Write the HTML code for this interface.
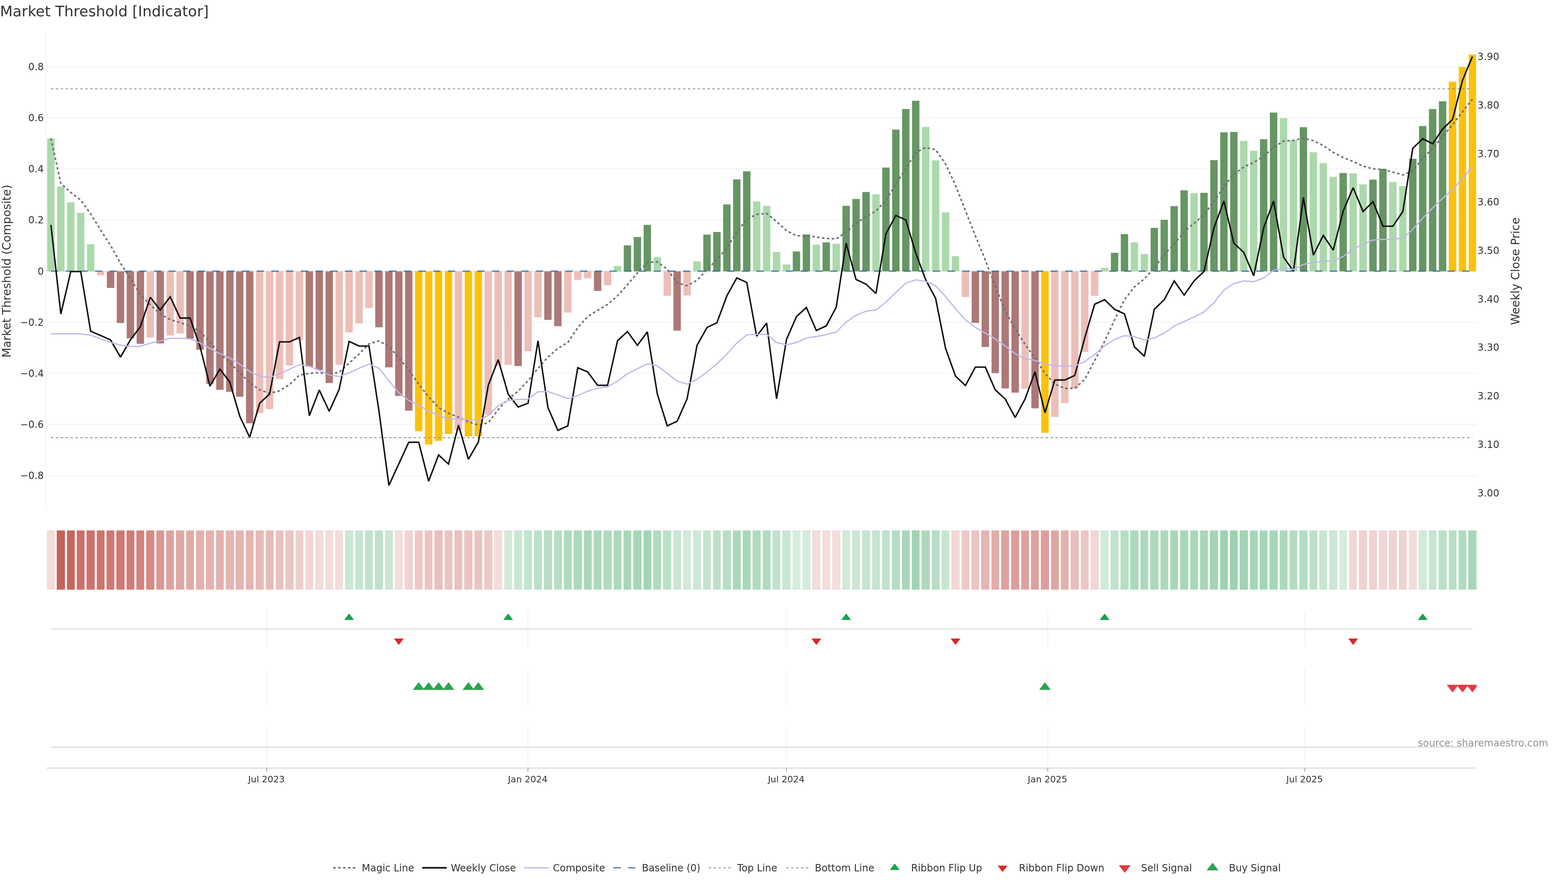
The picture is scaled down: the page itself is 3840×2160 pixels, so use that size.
<!DOCTYPE html>
<html lang="en"><head><meta charset="utf-8"><title>Market Threshold [Indicator]</title><style>html,body{margin:0;padding:0;background:#fff}body{width:3840px;height:2160px;overflow:hidden}svg{display:block}</style></head><body>
<svg width="3840" height="2160" viewBox="0 0 3840 2160" font-family="'DejaVu Sans','Liberation Sans',sans-serif">
<rect width="3840" height="2160" fill="#fff"/>
<defs><clipPath id="cm"><rect x="114.0" y="80.0" width="3502.4" height="1168.0"/></clipPath><clipPath id="c4"><rect x="114.0" y="1600" width="3502.4" height="170"/></clipPath></defs>
<g stroke="#eff1f3" stroke-width="2" fill="none">
<line x1="114.0" x2="3616.4" y1="163.2" y2="163.2"/>
<line x1="114.0" x2="3616.4" y1="288.4" y2="288.4"/>
<line x1="114.0" x2="3616.4" y1="413.6" y2="413.6"/>
<line x1="114.0" x2="3616.4" y1="538.8" y2="538.8"/>
<line x1="114.0" x2="3616.4" y1="789.2" y2="789.2"/>
<line x1="114.0" x2="3616.4" y1="914.4" y2="914.4"/>
<line x1="114.0" x2="3616.4" y1="1039.6" y2="1039.6"/>
<line x1="114.0" x2="3616.4" y1="1164.8" y2="1164.8"/>
<line x1="113" x2="113" y1="80.0" y2="1248.0"/>
</g>
<line x1="114.0" x2="3616.4" y1="664.0" y2="664.0" stroke="#e9e9e9" stroke-width="3"/>
<g fill="#fff">
<rect x="133.70" y="457.0" width="6.24" height="205.0"/>
<rect x="158.04" y="495.3" width="6.24" height="166.7"/>
<rect x="182.39" y="520.9" width="6.24" height="141.1"/>
<rect x="206.73" y="598.1" width="6.24" height="63.9"/>
<rect x="255.42" y="666.0" width="6.24" height="8.5"/>
<rect x="279.77" y="666.0" width="6.24" height="39.1"/>
<rect x="304.11" y="666.0" width="6.24" height="125.1"/>
<rect x="328.46" y="666.0" width="6.24" height="162.6"/>
<rect x="352.80" y="666.0" width="6.24" height="160.6"/>
<rect x="377.14" y="666.0" width="6.24" height="160.6"/>
<rect x="401.49" y="666.0" width="6.24" height="155.6"/>
<rect x="425.83" y="666.0" width="6.24" height="150.6"/>
<rect x="450.18" y="666.0" width="6.24" height="150.6"/>
<rect x="474.52" y="666.0" width="6.24" height="163.8"/>
<rect x="498.87" y="666.0" width="6.24" height="190.6"/>
<rect x="523.21" y="666.0" width="6.24" height="273.8"/>
<rect x="547.55" y="666.0" width="6.24" height="288.7"/>
<rect x="571.90" y="666.0" width="6.24" height="293.6"/>
<rect x="596.24" y="666.0" width="6.24" height="305.6"/>
<rect x="620.59" y="666.0" width="6.24" height="345.8"/>
<rect x="644.93" y="666.0" width="6.24" height="335.9"/>
<rect x="669.28" y="666.0" width="6.24" height="262.2"/>
<rect x="693.62" y="666.0" width="6.24" height="228.9"/>
<rect x="717.97" y="666.0" width="6.24" height="167.5"/>
<rect x="742.31" y="666.0" width="6.24" height="167.5"/>
<rect x="766.65" y="666.0" width="6.24" height="232.1"/>
<rect x="791.00" y="666.0" width="6.24" height="240.3"/>
<rect x="815.34" y="666.0" width="6.24" height="227.7"/>
<rect x="839.69" y="666.0" width="6.24" height="148.4"/>
<rect x="864.03" y="666.0" width="6.24" height="126.0"/>
<rect x="888.38" y="666.0" width="6.24" height="88.5"/>
<rect x="912.72" y="666.0" width="6.24" height="88.5"/>
<rect x="937.07" y="666.0" width="6.24" height="135.5"/>
<rect x="961.41" y="666.0" width="6.24" height="233.6"/>
<rect x="985.75" y="666.0" width="6.24" height="303.6"/>
<rect x="1010.10" y="666.0" width="6.24" height="339.6"/>
<rect x="1034.44" y="666.0" width="6.24" height="390.0"/>
<rect x="1058.79" y="666.0" width="6.24" height="413.6"/>
<rect x="1083.13" y="666.0" width="6.24" height="396.7"/>
<rect x="1107.48" y="666.0" width="6.24" height="388.0"/>
<rect x="1131.82" y="666.0" width="6.24" height="388.0"/>
<rect x="1156.17" y="666.0" width="6.24" height="402.4"/>
<rect x="1180.51" y="666.0" width="6.24" height="349.5"/>
<rect x="1204.85" y="666.0" width="6.24" height="229.7"/>
<rect x="1229.20" y="666.0" width="6.24" height="227.7"/>
<rect x="1253.54" y="666.0" width="6.24" height="227.7"/>
<rect x="1277.89" y="666.0" width="6.24" height="194.1"/>
<rect x="1302.23" y="666.0" width="6.24" height="111.1"/>
<rect x="1326.58" y="666.0" width="6.24" height="111.1"/>
<rect x="1350.92" y="666.0" width="6.24" height="117.4"/>
<rect x="1375.26" y="666.0" width="6.24" height="99.5"/>
<rect x="1399.61" y="666.0" width="6.24" height="19.4"/>
<rect x="1423.95" y="666.0" width="6.24" height="15.5"/>
<rect x="1448.30" y="666.0" width="6.24" height="15.5"/>
<rect x="1472.64" y="666.0" width="6.24" height="32.4"/>
<rect x="1521.33" y="651.3" width="6.24" height="10.7"/>
<rect x="1545.68" y="600.9" width="6.24" height="61.1"/>
<rect x="1570.02" y="580.5" width="6.24" height="81.5"/>
<rect x="1594.36" y="629.9" width="6.24" height="32.1"/>
<rect x="1643.05" y="666.0" width="6.24" height="58.5"/>
<rect x="1667.40" y="666.0" width="6.24" height="57.7"/>
<rect x="1716.09" y="639.9" width="6.24" height="22.1"/>
<rect x="1740.43" y="574.5" width="6.24" height="87.5"/>
<rect x="1764.78" y="568.1" width="6.24" height="93.9"/>
<rect x="1789.12" y="500.7" width="6.24" height="161.3"/>
<rect x="1813.46" y="439.4" width="6.24" height="222.6"/>
<rect x="1837.81" y="493.5" width="6.24" height="168.5"/>
<rect x="1862.15" y="504.2" width="6.24" height="157.8"/>
<rect x="1886.50" y="617.0" width="6.24" height="45.0"/>
<rect x="1910.84" y="647.6" width="6.24" height="14.4"/>
<rect x="1935.19" y="647.6" width="6.24" height="14.4"/>
<rect x="1959.53" y="615.8" width="6.24" height="46.2"/>
<rect x="1983.87" y="599.1" width="6.24" height="62.9"/>
<rect x="2008.22" y="599.1" width="6.24" height="62.9"/>
<rect x="2032.56" y="597.0" width="6.24" height="65.0"/>
<rect x="2056.91" y="597.0" width="6.24" height="65.0"/>
<rect x="2081.25" y="504.0" width="6.24" height="158.0"/>
<rect x="2105.60" y="487.3" width="6.24" height="174.7"/>
<rect x="2129.94" y="475.9" width="6.24" height="186.1"/>
<rect x="2154.29" y="475.9" width="6.24" height="186.1"/>
<rect x="2178.63" y="410.3" width="6.24" height="251.7"/>
<rect x="2202.97" y="317.4" width="6.24" height="344.6"/>
<rect x="2227.32" y="267.0" width="6.24" height="395.0"/>
<rect x="2251.66" y="310.9" width="6.24" height="351.1"/>
<rect x="2276.01" y="392.7" width="6.24" height="269.3"/>
<rect x="2300.35" y="520.1" width="6.24" height="141.9"/>
<rect x="2324.70" y="627.3" width="6.24" height="34.7"/>
<rect x="2373.39" y="666.0" width="6.24" height="61.5"/>
<rect x="2397.73" y="666.0" width="6.24" height="124.8"/>
<rect x="2422.07" y="666.0" width="6.24" height="183.7"/>
<rect x="2446.42" y="666.0" width="6.24" height="247.7"/>
<rect x="2470.76" y="666.0" width="6.24" height="285.2"/>
<rect x="2495.11" y="666.0" width="6.24" height="286.2"/>
<rect x="2519.45" y="666.0" width="6.24" height="286.2"/>
<rect x="2543.80" y="666.0" width="6.24" height="333.9"/>
<rect x="2568.14" y="666.0" width="6.24" height="355.2"/>
<rect x="2592.48" y="666.0" width="6.24" height="321.0"/>
<rect x="2616.83" y="666.0" width="6.24" height="285.7"/>
<rect x="2641.17" y="666.0" width="6.24" height="195.7"/>
<rect x="2665.52" y="666.0" width="6.24" height="58.5"/>
<rect x="2714.21" y="656.1" width="6.24" height="5.9"/>
<rect x="2738.55" y="619.1" width="6.24" height="42.9"/>
<rect x="2762.90" y="593.6" width="6.24" height="68.4"/>
<rect x="2787.24" y="622.1" width="6.24" height="39.9"/>
<rect x="2811.58" y="622.1" width="6.24" height="39.9"/>
<rect x="2835.93" y="558.1" width="6.24" height="103.9"/>
<rect x="2860.27" y="538.3" width="6.24" height="123.7"/>
<rect x="2884.62" y="504.7" width="6.24" height="157.3"/>
<rect x="2908.96" y="473.2" width="6.24" height="188.8"/>
<rect x="2933.31" y="473.2" width="6.24" height="188.8"/>
<rect x="2957.65" y="472.2" width="6.24" height="189.8"/>
<rect x="2982.00" y="392.2" width="6.24" height="269.8"/>
<rect x="3006.34" y="324.1" width="6.24" height="337.9"/>
<rect x="3030.68" y="345.2" width="6.24" height="316.8"/>
<rect x="3055.03" y="369.3" width="6.24" height="292.7"/>
<rect x="3079.37" y="369.3" width="6.24" height="292.7"/>
<rect x="3103.72" y="341.0" width="6.24" height="321.0"/>
<rect x="3128.06" y="289.3" width="6.24" height="372.7"/>
<rect x="3152.41" y="343.2" width="6.24" height="318.8"/>
<rect x="3176.75" y="343.2" width="6.24" height="318.8"/>
<rect x="3201.10" y="372.8" width="6.24" height="289.2"/>
<rect x="3225.44" y="399.5" width="6.24" height="262.5"/>
<rect x="3249.78" y="433.1" width="6.24" height="228.9"/>
<rect x="3274.13" y="433.1" width="6.24" height="228.9"/>
<rect x="3298.47" y="424.5" width="6.24" height="237.5"/>
<rect x="3322.82" y="451.6" width="6.24" height="210.4"/>
<rect x="3347.16" y="451.6" width="6.24" height="210.4"/>
<rect x="3371.51" y="439.9" width="6.24" height="222.1"/>
<rect x="3395.85" y="445.8" width="6.24" height="216.2"/>
<rect x="3420.19" y="455.8" width="6.24" height="206.2"/>
<rect x="3444.54" y="455.8" width="6.24" height="206.2"/>
<rect x="3468.88" y="388.9" width="6.24" height="273.1"/>
<rect x="3493.23" y="308.7" width="6.24" height="353.3"/>
<rect x="3517.57" y="267.0" width="6.24" height="395.0"/>
<rect x="3541.92" y="248.1" width="6.24" height="413.9"/>
<rect x="3566.26" y="200.1" width="6.24" height="461.9"/>
<rect x="3590.61" y="164.1" width="6.24" height="497.9"/>
</g>
<g clip-path="url(#cm)">
<rect x="115.60" y="339.0" width="18.1" height="325.5" fill="#abd9ab"/>
<rect x="139.94" y="457.0" width="18.1" height="207.5" fill="#abd9ab"/>
<rect x="164.29" y="495.3" width="18.1" height="169.2" fill="#abd9ab"/>
<rect x="188.63" y="520.9" width="18.1" height="143.6" fill="#abd9ab"/>
<rect x="212.98" y="598.1" width="18.1" height="66.4" fill="#abd9ab"/>
<rect x="237.32" y="664.5" width="18.1" height="10.0" fill="#edbeb8"/>
<rect x="261.67" y="664.5" width="18.1" height="40.6" fill="#ad7875"/>
<rect x="286.01" y="664.5" width="18.1" height="126.6" fill="#ad7875"/>
<rect x="310.36" y="664.5" width="18.1" height="164.1" fill="#ad7875"/>
<rect x="334.70" y="664.5" width="18.1" height="177.5" fill="#ad7875"/>
<rect x="359.04" y="664.5" width="18.1" height="162.1" fill="#edbeb8"/>
<rect x="383.39" y="664.5" width="18.1" height="176.5" fill="#ad7875"/>
<rect x="407.73" y="664.5" width="18.1" height="157.1" fill="#edbeb8"/>
<rect x="432.08" y="664.5" width="18.1" height="152.1" fill="#edbeb8"/>
<rect x="456.42" y="664.5" width="18.1" height="165.3" fill="#ad7875"/>
<rect x="480.77" y="664.5" width="18.1" height="192.1" fill="#ad7875"/>
<rect x="505.11" y="664.5" width="18.1" height="275.3" fill="#ad7875"/>
<rect x="529.45" y="664.5" width="18.1" height="290.2" fill="#ad7875"/>
<rect x="553.80" y="664.5" width="18.1" height="295.1" fill="#ad7875"/>
<rect x="578.14" y="664.5" width="18.1" height="307.1" fill="#ad7875"/>
<rect x="602.49" y="664.5" width="18.1" height="372.1" fill="#ad7875"/>
<rect x="626.83" y="664.5" width="18.1" height="347.3" fill="#edbeb8"/>
<rect x="651.18" y="664.5" width="18.1" height="337.4" fill="#edbeb8"/>
<rect x="675.52" y="664.5" width="18.1" height="263.7" fill="#edbeb8"/>
<rect x="699.87" y="664.5" width="18.1" height="230.4" fill="#edbeb8"/>
<rect x="724.21" y="664.5" width="18.1" height="169.0" fill="#edbeb8"/>
<rect x="748.55" y="664.5" width="18.1" height="233.6" fill="#ad7875"/>
<rect x="772.90" y="664.5" width="18.1" height="241.8" fill="#ad7875"/>
<rect x="797.24" y="664.5" width="18.1" height="273.4" fill="#ad7875"/>
<rect x="821.59" y="664.5" width="18.1" height="229.2" fill="#edbeb8"/>
<rect x="845.93" y="664.5" width="18.1" height="149.9" fill="#edbeb8"/>
<rect x="870.28" y="664.5" width="18.1" height="127.5" fill="#edbeb8"/>
<rect x="894.62" y="664.5" width="18.1" height="90.0" fill="#edbeb8"/>
<rect x="918.97" y="664.5" width="18.1" height="137.0" fill="#ad7875"/>
<rect x="943.31" y="664.5" width="18.1" height="235.1" fill="#ad7875"/>
<rect x="967.65" y="664.5" width="18.1" height="305.1" fill="#ad7875"/>
<rect x="992.00" y="664.5" width="18.1" height="341.1" fill="#ad7875"/>
<rect x="1016.34" y="664.5" width="18.1" height="391.5" fill="#fdc10a"/>
<rect x="1040.69" y="664.5" width="18.1" height="424.3" fill="#fdc10a"/>
<rect x="1065.03" y="664.5" width="18.1" height="415.1" fill="#fdc10a"/>
<rect x="1089.38" y="664.5" width="18.1" height="398.2" fill="#fdc10a"/>
<rect x="1113.72" y="664.5" width="18.1" height="389.5" fill="#edbeb8"/>
<rect x="1138.07" y="664.5" width="18.1" height="404.4" fill="#fdc10a"/>
<rect x="1162.41" y="664.5" width="18.1" height="403.9" fill="#fdc10a"/>
<rect x="1186.75" y="664.5" width="18.1" height="351.0" fill="#edbeb8"/>
<rect x="1211.10" y="664.5" width="18.1" height="231.2" fill="#edbeb8"/>
<rect x="1235.44" y="664.5" width="18.1" height="229.2" fill="#edbeb8"/>
<rect x="1259.79" y="664.5" width="18.1" height="231.9" fill="#ad7875"/>
<rect x="1284.13" y="664.5" width="18.1" height="195.6" fill="#edbeb8"/>
<rect x="1308.48" y="664.5" width="18.1" height="112.6" fill="#edbeb8"/>
<rect x="1332.82" y="664.5" width="18.1" height="118.9" fill="#ad7875"/>
<rect x="1357.16" y="664.5" width="18.1" height="134.3" fill="#ad7875"/>
<rect x="1381.51" y="664.5" width="18.1" height="101.0" fill="#edbeb8"/>
<rect x="1405.85" y="664.5" width="18.1" height="20.9" fill="#edbeb8"/>
<rect x="1430.20" y="664.5" width="18.1" height="17.0" fill="#edbeb8"/>
<rect x="1454.54" y="664.5" width="18.1" height="48.0" fill="#ad7875"/>
<rect x="1478.89" y="664.5" width="18.1" height="33.9" fill="#edbeb8"/>
<rect x="1503.23" y="651.3" width="18.1" height="13.2" fill="#abd9ab"/>
<rect x="1527.58" y="600.9" width="18.1" height="63.6" fill="#659663"/>
<rect x="1551.92" y="580.5" width="18.1" height="84.0" fill="#659663"/>
<rect x="1576.26" y="550.7" width="18.1" height="113.8" fill="#659663"/>
<rect x="1600.61" y="629.9" width="18.1" height="34.6" fill="#abd9ab"/>
<rect x="1624.95" y="664.5" width="18.1" height="60.0" fill="#edbeb8"/>
<rect x="1649.30" y="664.5" width="18.1" height="145.2" fill="#ad7875"/>
<rect x="1673.64" y="664.5" width="18.1" height="59.2" fill="#edbeb8"/>
<rect x="1697.99" y="639.9" width="18.1" height="24.6" fill="#abd9ab"/>
<rect x="1722.33" y="574.5" width="18.1" height="90.0" fill="#659663"/>
<rect x="1746.68" y="568.1" width="18.1" height="96.4" fill="#659663"/>
<rect x="1771.02" y="500.7" width="18.1" height="163.8" fill="#659663"/>
<rect x="1795.36" y="439.4" width="18.1" height="225.1" fill="#659663"/>
<rect x="1819.71" y="419.5" width="18.1" height="245.0" fill="#659663"/>
<rect x="1844.05" y="493.5" width="18.1" height="171.0" fill="#abd9ab"/>
<rect x="1868.40" y="504.2" width="18.1" height="160.3" fill="#abd9ab"/>
<rect x="1892.74" y="617.0" width="18.1" height="47.5" fill="#abd9ab"/>
<rect x="1917.09" y="647.6" width="18.1" height="16.9" fill="#abd9ab"/>
<rect x="1941.43" y="615.8" width="18.1" height="48.7" fill="#659663"/>
<rect x="1965.77" y="574.3" width="18.1" height="90.2" fill="#659663"/>
<rect x="1990.12" y="599.1" width="18.1" height="65.4" fill="#abd9ab"/>
<rect x="2014.46" y="593.6" width="18.1" height="70.9" fill="#659663"/>
<rect x="2038.81" y="597.0" width="18.1" height="67.5" fill="#abd9ab"/>
<rect x="2063.15" y="504.0" width="18.1" height="160.5" fill="#659663"/>
<rect x="2087.50" y="487.3" width="18.1" height="177.2" fill="#659663"/>
<rect x="2111.84" y="470.2" width="18.1" height="194.3" fill="#659663"/>
<rect x="2136.19" y="475.9" width="18.1" height="188.6" fill="#abd9ab"/>
<rect x="2160.53" y="410.3" width="18.1" height="254.2" fill="#659663"/>
<rect x="2184.87" y="317.4" width="18.1" height="347.1" fill="#659663"/>
<rect x="2209.22" y="267.0" width="18.1" height="397.5" fill="#659663"/>
<rect x="2233.56" y="246.8" width="18.1" height="417.7" fill="#659663"/>
<rect x="2257.91" y="310.9" width="18.1" height="353.6" fill="#abd9ab"/>
<rect x="2282.25" y="392.7" width="18.1" height="271.8" fill="#abd9ab"/>
<rect x="2306.60" y="520.1" width="18.1" height="144.4" fill="#abd9ab"/>
<rect x="2330.94" y="627.3" width="18.1" height="37.2" fill="#abd9ab"/>
<rect x="2355.29" y="664.5" width="18.1" height="63.0" fill="#edbeb8"/>
<rect x="2379.63" y="664.5" width="18.1" height="126.3" fill="#ad7875"/>
<rect x="2403.97" y="664.5" width="18.1" height="185.2" fill="#ad7875"/>
<rect x="2428.32" y="664.5" width="18.1" height="249.2" fill="#ad7875"/>
<rect x="2452.66" y="664.5" width="18.1" height="286.7" fill="#ad7875"/>
<rect x="2477.01" y="664.5" width="18.1" height="297.1" fill="#ad7875"/>
<rect x="2501.35" y="664.5" width="18.1" height="287.7" fill="#edbeb8"/>
<rect x="2525.70" y="664.5" width="18.1" height="335.4" fill="#ad7875"/>
<rect x="2550.04" y="664.5" width="18.1" height="395.5" fill="#fdc10a"/>
<rect x="2574.38" y="664.5" width="18.1" height="356.7" fill="#edbeb8"/>
<rect x="2598.73" y="664.5" width="18.1" height="322.5" fill="#edbeb8"/>
<rect x="2623.07" y="664.5" width="18.1" height="287.2" fill="#edbeb8"/>
<rect x="2647.42" y="664.5" width="18.1" height="197.2" fill="#edbeb8"/>
<rect x="2671.76" y="664.5" width="18.1" height="60.0" fill="#edbeb8"/>
<rect x="2696.11" y="656.1" width="18.1" height="8.4" fill="#abd9ab"/>
<rect x="2720.45" y="619.1" width="18.1" height="45.4" fill="#659663"/>
<rect x="2744.80" y="573.3" width="18.1" height="91.2" fill="#659663"/>
<rect x="2769.14" y="593.6" width="18.1" height="70.9" fill="#abd9ab"/>
<rect x="2793.48" y="622.1" width="18.1" height="42.4" fill="#abd9ab"/>
<rect x="2817.83" y="558.1" width="18.1" height="106.4" fill="#659663"/>
<rect x="2842.17" y="538.3" width="18.1" height="126.2" fill="#659663"/>
<rect x="2866.52" y="504.7" width="18.1" height="159.8" fill="#659663"/>
<rect x="2890.86" y="466.2" width="18.1" height="198.3" fill="#659663"/>
<rect x="2915.21" y="473.2" width="18.1" height="191.3" fill="#abd9ab"/>
<rect x="2939.55" y="472.2" width="18.1" height="192.3" fill="#659663"/>
<rect x="2963.90" y="392.2" width="18.1" height="272.3" fill="#659663"/>
<rect x="2988.24" y="324.1" width="18.1" height="340.4" fill="#659663"/>
<rect x="3012.58" y="323.1" width="18.1" height="341.4" fill="#659663"/>
<rect x="3036.93" y="345.2" width="18.1" height="319.3" fill="#abd9ab"/>
<rect x="3061.27" y="369.3" width="18.1" height="295.2" fill="#abd9ab"/>
<rect x="3085.62" y="341.0" width="18.1" height="323.5" fill="#659663"/>
<rect x="3109.96" y="275.7" width="18.1" height="388.8" fill="#659663"/>
<rect x="3134.31" y="289.3" width="18.1" height="375.2" fill="#abd9ab"/>
<rect x="3158.65" y="343.2" width="18.1" height="321.3" fill="#abd9ab"/>
<rect x="3183.00" y="311.5" width="18.1" height="353.0" fill="#659663"/>
<rect x="3207.34" y="372.8" width="18.1" height="291.7" fill="#abd9ab"/>
<rect x="3231.68" y="399.5" width="18.1" height="265.0" fill="#abd9ab"/>
<rect x="3256.03" y="433.1" width="18.1" height="231.4" fill="#abd9ab"/>
<rect x="3280.37" y="423.7" width="18.1" height="240.8" fill="#659663"/>
<rect x="3304.72" y="424.5" width="18.1" height="240.0" fill="#abd9ab"/>
<rect x="3329.06" y="451.6" width="18.1" height="212.9" fill="#abd9ab"/>
<rect x="3353.41" y="439.9" width="18.1" height="224.6" fill="#659663"/>
<rect x="3377.75" y="413.5" width="18.1" height="251.0" fill="#659663"/>
<rect x="3402.09" y="445.8" width="18.1" height="218.7" fill="#abd9ab"/>
<rect x="3426.44" y="455.8" width="18.1" height="208.7" fill="#abd9ab"/>
<rect x="3450.78" y="388.9" width="18.1" height="275.6" fill="#659663"/>
<rect x="3475.13" y="308.7" width="18.1" height="355.8" fill="#659663"/>
<rect x="3499.47" y="267.0" width="18.1" height="397.5" fill="#659663"/>
<rect x="3523.82" y="248.1" width="18.1" height="416.4" fill="#659663"/>
<rect x="3548.16" y="200.1" width="18.1" height="464.4" fill="#fdc10a"/>
<rect x="3572.51" y="164.1" width="18.1" height="500.4" fill="#fdc10a"/>
<rect x="3596.85" y="133.5" width="18.1" height="531.0" fill="#fdc10a"/>
</g>
<polyline points="124.7,339.0 149.0,449.0 173.3,471.4 197.7,490.0 222.0,523.6 246.4,563.4 270.7,601.0 295.1,644.7 319.4,682.0 343.7,721.7 368.1,746.6 392.4,768.9 416.8,782.6 441.1,790.0 465.5,798.8 489.8,811.2 514.2,838.5 538.5,865.8 562.8,888.2 587.2,912.7 611.5,937.6 635.9,954.8 660.2,963.4 684.6,957.1 708.9,942.2 733.3,918.6 757.6,914.3 781.9,912.5 806.3,916.8 830.6,911.8 855.0,889.4 879.3,867.1 903.7,842.2 928.0,834.8 952.4,848.4 976.7,876.0 1001.0,906.0 1025.4,941.0 1049.7,972.0 1074.1,998.1 1098.4,1011.8 1122.8,1021.7 1147.1,1032.9 1171.5,1041.1 1195.8,1035.4 1220.1,1003.1 1244.5,977.0 1268.8,958.1 1293.2,932.6 1317.5,902.2 1341.9,874.5 1366.2,853.4 1390.6,838.8 1414.9,802.7 1439.2,775.4 1463.6,759.8 1487.9,745.6 1512.3,724.5 1536.6,697.4 1561.0,668.3 1585.3,643.1 1609.7,641.1 1634.0,659.3 1658.3,692.5 1682.7,699.7 1707.0,686.3 1731.4,660.5 1755.7,635.7 1780.1,607.1 1804.4,568.6 1828.8,536.3 1853.1,525.1 1877.4,522.6 1901.8,542.5 1926.1,564.8 1950.5,577.3 1974.8,577.3 1999.2,580.5 2023.5,584.0 2047.9,585.1 2072.2,568.2 2096.5,546.7 2120.9,530.6 2145.2,516.9 2169.6,490.8 2193.9,451.1 2218.3,412.5 2242.6,374.0 2267.0,360.9 2291.3,366.6 2315.6,401.4 2340.0,453.5 2364.3,515.7 2388.7,577.7 2413.0,636.8 2437.4,701.4 2461.7,761.0 2486.1,805.7 2510.4,843.3 2534.7,876.8 2559.1,914.4 2583.4,940.5 2607.8,951.2 2632.1,950.9 2656.5,929.3 2680.8,883.0 2705.2,835.8 2729.5,783.6 2753.8,733.9 2778.2,702.9 2802.5,683.0 2826.9,655.7 2851.2,623.5 2875.6,598.2 2899.9,567.2 2924.3,547.0 2948.6,525.8 2972.9,493.5 2997.3,457.5 3021.6,426.5 3046.0,409.1 3070.3,397.9 3094.7,383.0 3119.0,360.6 3143.4,345.7 3167.7,343.7 3192.0,338.3 3216.4,344.6 3240.7,356.4 3265.1,373.2 3289.4,385.6 3313.8,395.7 3338.1,406.8 3362.5,413.5 3386.8,415.0 3411.1,421.7 3435.5,428.4 3459.8,418.0 3484.2,388.2 3508.5,363.4 3532.9,334.8 3557.2,305.0 3581.6,273.9 3605.9,242.9" fill="none" stroke="#6c6f73" stroke-width="3.8" stroke-dasharray="6 6" stroke-miterlimit="2"/>
<line x1="124.65" x2="3605.9" y1="664.0" y2="664.0" stroke="#2c6e9b" stroke-width="2.6" stroke-dasharray="18 18"/>
<line x1="124.65" x2="3605.9" y1="217.6" y2="217.6" stroke="#888" stroke-width="2" stroke-dasharray="6 6"/>
<line x1="124.65" x2="3605.9" y1="1071.9" y2="1071.9" stroke="#888" stroke-width="2" stroke-dasharray="6 6"/>
<polyline points="124.7,550.9 149.0,768.9 173.3,665.0 197.7,665.0 222.0,811.2 246.4,821.7 270.7,832.3 295.1,874.5 319.4,832.3 343.7,800.0 368.1,728.0 392.4,759.0 416.8,726.7 441.1,778.9 465.5,778.9 489.8,848.4 514.2,945.6 538.5,904.0 562.8,935.7 587.2,1019.3 611.5,1070.9 635.9,987.5 660.2,965.1 684.6,837.3 708.9,837.3 733.3,826.1 757.6,1018.0 781.9,955.2 806.3,1007.3 830.6,953.4 855.0,836.0 879.3,847.5 903.7,847.5 928.0,1006.0 952.4,1188.7 976.7,1136.0 1001.0,1083.1 1025.4,1083.1 1049.7,1178.3 1074.1,1114.2 1098.4,1136.5 1122.8,1041.1 1147.1,1124.8 1171.5,1082.6 1195.8,943.5 1220.1,880.7 1244.5,965.1 1268.8,996.9 1293.2,987.5 1317.5,834.8 1341.9,998.1 1366.2,1054.0 1390.6,1042.9 1414.9,900.5 1439.2,910.8 1463.6,943.6 1487.9,943.6 1512.3,834.5 1536.6,811.9 1561.0,845.7 1585.3,812.7 1609.7,964.6 1634.0,1042.9 1658.3,1031.7 1682.7,976.8 1707.0,845.7 1731.4,802.0 1755.7,790.3 1780.1,724.5 1804.4,680.5 1828.8,691.7 1853.1,823.4 1877.4,791.1 1901.8,976.6 1926.1,831.3 1950.5,775.4 1974.8,753.0 1999.2,809.4 2023.5,798.0 2047.9,752.3 2072.2,595.8 2096.5,684.5 2120.9,695.9 2145.2,718.8 2169.6,572.7 2193.9,527.5 2218.3,538.7 2242.6,619.4 2267.0,685.2 2291.3,730.7 2315.6,852.8 2340.0,921.1 2364.3,944.2 2388.7,899.0 2413.0,899.0 2437.4,954.9 2461.7,977.0 2486.1,1022.5 2510.4,977.0 2534.7,910.7 2559.1,1010.8 2583.4,930.6 2607.8,930.6 2632.1,919.4 2656.5,827.5 2680.8,745.1 2705.2,733.9 2729.5,757.5 2753.8,768.7 2778.2,849.4 2802.5,872.5 2826.9,757.5 2851.2,733.9 2875.6,688.0 2899.9,722.7 2924.3,688.0 2948.6,664.8 2972.9,558.1 2997.3,492.3 3021.6,595.4 3046.0,618.2 3070.3,675.5 3094.7,558.1 3119.0,492.3 3143.4,629.6 3167.7,664.3 3192.0,483.6 3216.4,624.7 3240.7,576.5 3265.1,612.5 3289.4,517.0 3313.8,459.6 3338.1,518.0 3362.5,493.9 3386.8,554.0 3411.1,554.0 3435.5,518.0 3459.8,363.4 3484.2,339.8 3508.5,352.2 3532.9,316.1 3557.2,292.5 3581.6,196.9 3605.9,138.5" fill="none" stroke="#111" stroke-width="3.6" stroke-miterlimit="2"/>
<polyline points="124.7,817.4 149.0,817.4 173.3,817.4 197.7,817.4 222.0,821.0 246.4,829.8 270.7,838.5 295.1,845.2 319.4,848.4 343.7,848.0 368.1,840.5 392.4,834.8 416.8,828.6 441.1,828.6 465.5,829.8 489.8,839.8 514.2,853.4 538.5,865.8 562.8,877.0 587.2,892.0 611.5,910.0 635.9,921.5 660.2,924.7 684.6,915.2 708.9,904.3 733.3,893.0 757.6,896.9 781.9,906.8 806.3,918.0 830.6,922.2 855.0,913.0 879.3,901.9 903.7,891.9 928.0,901.8 952.4,932.6 976.7,962.0 1001.0,980.7 1025.4,991.9 1049.7,1006.8 1074.1,1016.8 1098.4,1026.7 1122.8,1025.5 1147.1,1028.0 1171.5,1029.2 1195.8,1017.3 1220.1,993.2 1244.5,980.7 1268.8,978.3 1293.2,977.5 1317.5,959.6 1341.9,958.9 1366.2,967.1 1390.6,976.5 1414.9,969.2 1439.2,958.0 1463.6,950.6 1487.9,947.3 1512.3,933.2 1536.6,915.3 1561.0,902.9 1585.3,890.9 1609.7,895.9 1634.0,914.5 1658.3,933.2 1682.7,940.6 1707.0,928.9 1731.4,910.8 1755.7,890.9 1780.1,867.3 1804.4,840.0 1828.8,820.1 1853.1,818.9 1877.4,818.4 1901.8,838.8 1926.1,844.5 1950.5,838.8 1974.8,827.6 1999.2,823.9 2023.5,819.7 2047.9,813.2 2072.2,788.8 2096.5,772.2 2120.9,762.2 2145.2,759.0 2169.6,739.9 2193.9,716.3 2218.3,693.4 2242.6,685.2 2267.0,688.9 2291.3,700.1 2315.6,726.2 2340.0,756.0 2364.3,783.4 2388.7,802.0 2413.0,815.7 2437.4,830.3 2461.7,847.0 2486.1,866.3 2510.4,878.5 2534.7,882.6 2559.1,892.0 2583.4,895.8 2607.8,897.0 2632.1,896.5 2656.5,885.6 2680.8,868.1 2705.2,847.0 2729.5,831.3 2753.8,822.1 2778.2,824.6 2802.5,832.5 2826.9,827.8 2851.2,815.9 2875.6,798.5 2899.9,787.3 2924.3,776.1 2948.6,763.7 2972.9,741.4 2997.3,710.3 3021.6,694.2 3046.0,688.0 3070.3,689.7 3094.7,681.0 3119.0,661.9 3143.4,656.4 3167.7,660.1 3192.0,647.4 3216.4,643.1 3240.7,639.6 3265.1,639.6 3289.4,628.2 3313.8,610.7 3338.1,598.0 3362.5,588.1 3386.8,586.3 3411.1,585.8 3435.5,583.4 3459.8,561.5 3484.2,534.2 3508.5,509.3 3532.9,485.7 3557.2,464.6 3581.6,437.3 3605.9,407.7" fill="none" stroke="#c0b6ec" stroke-width="3" stroke-miterlimit="2"/>
<g font-size="24" fill="#333333" text-anchor="end">
<text x="107.3" y="171.7">0.8</text>
<text x="107.3" y="296.9">0.6</text>
<text x="107.3" y="422.1">0.4</text>
<text x="107.3" y="547.3">0.2</text>
<text x="107.3" y="672.5">0</text>
<text x="107.3" y="797.7">−0.2</text>
<text x="107.3" y="922.9">−0.4</text>
<text x="107.3" y="1048.1">−0.6</text>
<text x="107.3" y="1173.3">−0.8</text>
</g>
<g font-size="24" fill="#333333">
<text x="3618.3" y="147.1">3.90</text>
<text x="3618.3" y="265.8">3.80</text>
<text x="3618.3" y="384.5">3.70</text>
<text x="3618.3" y="503.3">3.60</text>
<text x="3618.3" y="622.0">3.50</text>
<text x="3618.3" y="740.7">3.40</text>
<text x="3618.3" y="859.4">3.30</text>
<text x="3618.3" y="978.1">3.20</text>
<text x="3618.3" y="1096.9">3.10</text>
<text x="3618.3" y="1215.6">3.00</text>
</g>
<text transform="translate(26,664) rotate(-90)" font-size="28" fill="#333333" text-anchor="middle">Market Threshold (Composite)</text>
<text transform="translate(3721,664) rotate(-90)" font-size="28" fill="#333333" text-anchor="middle">Weekly Close Price</text>
<text x="0" y="40.2" font-size="36" fill="#333333">Market Threshold [Indicator]</text>
<g shape-rendering="crispEdges">
<rect x="114.95" y="1299.0" width="19.40" height="145.2" fill="rgb(243,220,218)"/>
<rect x="139.29" y="1299.0" width="19.40" height="145.2" fill="rgb(200,98,91)"/>
<rect x="163.64" y="1299.0" width="19.40" height="145.2" fill="rgb(201,101,95)"/>
<rect x="187.98" y="1299.0" width="19.40" height="145.2" fill="rgb(204,111,104)"/>
<rect x="212.33" y="1299.0" width="19.40" height="145.2" fill="rgb(206,114,108)"/>
<rect x="236.67" y="1299.0" width="19.40" height="145.2" fill="rgb(206,116,110)"/>
<rect x="261.02" y="1299.0" width="19.40" height="145.2" fill="rgb(208,120,114)"/>
<rect x="285.36" y="1299.0" width="19.40" height="145.2" fill="rgb(208,120,114)"/>
<rect x="309.71" y="1299.0" width="19.40" height="145.2" fill="rgb(209,124,118)"/>
<rect x="334.05" y="1299.0" width="19.40" height="145.2" fill="rgb(211,131,126)"/>
<rect x="358.39" y="1299.0" width="19.40" height="145.2" fill="rgb(214,138,133)"/>
<rect x="382.74" y="1299.0" width="19.40" height="145.2" fill="rgb(219,151,147)"/>
<rect x="407.08" y="1299.0" width="19.40" height="145.2" fill="rgb(222,162,158)"/>
<rect x="431.43" y="1299.0" width="19.40" height="145.2" fill="rgb(224,168,164)"/>
<rect x="455.77" y="1299.0" width="19.40" height="145.2" fill="rgb(226,172,168)"/>
<rect x="480.12" y="1299.0" width="19.40" height="145.2" fill="rgb(228,177,174)"/>
<rect x="504.46" y="1299.0" width="19.40" height="145.2" fill="rgb(228,177,174)"/>
<rect x="528.80" y="1299.0" width="19.40" height="145.2" fill="rgb(228,177,174)"/>
<rect x="553.15" y="1299.0" width="19.40" height="145.2" fill="rgb(229,181,178)"/>
<rect x="577.49" y="1299.0" width="19.40" height="145.2" fill="rgb(229,181,178)"/>
<rect x="601.84" y="1299.0" width="19.40" height="145.2" fill="rgb(229,181,178)"/>
<rect x="626.18" y="1299.0" width="19.40" height="145.2" fill="rgb(230,185,182)"/>
<rect x="650.53" y="1299.0" width="19.40" height="145.2" fill="rgb(231,187,184)"/>
<rect x="674.87" y="1299.0" width="19.40" height="145.2" fill="rgb(234,194,191)"/>
<rect x="699.22" y="1299.0" width="19.40" height="145.2" fill="rgb(235,198,195)"/>
<rect x="723.56" y="1299.0" width="19.40" height="145.2" fill="rgb(238,207,205)"/>
<rect x="747.90" y="1299.0" width="19.40" height="145.2" fill="rgb(241,214,213)"/>
<rect x="772.25" y="1299.0" width="19.40" height="145.2" fill="rgb(243,220,218)"/>
<rect x="796.59" y="1299.0" width="19.40" height="145.2" fill="rgb(243,220,218)"/>
<rect x="820.94" y="1299.0" width="19.40" height="145.2" fill="rgb(243,220,218)"/>
<rect x="845.28" y="1299.0" width="19.40" height="145.2" fill="rgb(202,231,212)"/>
<rect x="869.63" y="1299.0" width="19.40" height="145.2" fill="rgb(198,229,209)"/>
<rect x="893.97" y="1299.0" width="19.40" height="145.2" fill="rgb(192,226,204)"/>
<rect x="918.32" y="1299.0" width="19.40" height="145.2" fill="rgb(192,226,204)"/>
<rect x="942.66" y="1299.0" width="19.40" height="145.2" fill="rgb(202,231,212)"/>
<rect x="967.00" y="1299.0" width="19.40" height="145.2" fill="rgb(243,220,218)"/>
<rect x="991.35" y="1299.0" width="19.40" height="145.2" fill="rgb(239,211,209)"/>
<rect x="1015.69" y="1299.0" width="19.40" height="145.2" fill="rgb(236,201,199)"/>
<rect x="1040.04" y="1299.0" width="19.40" height="145.2" fill="rgb(234,196,193)"/>
<rect x="1064.38" y="1299.0" width="19.40" height="145.2" fill="rgb(233,192,189)"/>
<rect x="1088.73" y="1299.0" width="19.40" height="145.2" fill="rgb(234,196,193)"/>
<rect x="1113.07" y="1299.0" width="19.40" height="145.2" fill="rgb(233,192,189)"/>
<rect x="1137.42" y="1299.0" width="19.40" height="145.2" fill="rgb(234,196,193)"/>
<rect x="1161.76" y="1299.0" width="19.40" height="145.2" fill="rgb(234,196,193)"/>
<rect x="1186.10" y="1299.0" width="19.40" height="145.2" fill="rgb(236,201,199)"/>
<rect x="1210.45" y="1299.0" width="19.40" height="145.2" fill="rgb(243,220,218)"/>
<rect x="1234.79" y="1299.0" width="19.40" height="145.2" fill="rgb(209,234,218)"/>
<rect x="1259.14" y="1299.0" width="19.40" height="145.2" fill="rgb(202,231,212)"/>
<rect x="1283.48" y="1299.0" width="19.40" height="145.2" fill="rgb(196,228,207)"/>
<rect x="1307.83" y="1299.0" width="19.40" height="145.2" fill="rgb(186,224,199)"/>
<rect x="1332.17" y="1299.0" width="19.40" height="145.2" fill="rgb(182,222,196)"/>
<rect x="1356.51" y="1299.0" width="19.40" height="145.2" fill="rgb(182,222,196)"/>
<rect x="1380.86" y="1299.0" width="19.40" height="145.2" fill="rgb(175,219,190)"/>
<rect x="1405.20" y="1299.0" width="19.40" height="145.2" fill="rgb(171,217,187)"/>
<rect x="1429.55" y="1299.0" width="19.40" height="145.2" fill="rgb(167,215,184)"/>
<rect x="1453.89" y="1299.0" width="19.40" height="145.2" fill="rgb(171,217,187)"/>
<rect x="1478.24" y="1299.0" width="19.40" height="145.2" fill="rgb(175,219,190)"/>
<rect x="1502.58" y="1299.0" width="19.40" height="145.2" fill="rgb(171,217,187)"/>
<rect x="1526.93" y="1299.0" width="19.40" height="145.2" fill="rgb(167,215,184)"/>
<rect x="1551.27" y="1299.0" width="19.40" height="145.2" fill="rgb(165,214,182)"/>
<rect x="1575.61" y="1299.0" width="19.40" height="145.2" fill="rgb(163,213,180)"/>
<rect x="1599.96" y="1299.0" width="19.40" height="145.2" fill="rgb(175,219,190)"/>
<rect x="1624.30" y="1299.0" width="19.40" height="145.2" fill="rgb(186,224,199)"/>
<rect x="1648.65" y="1299.0" width="19.40" height="145.2" fill="rgb(202,231,212)"/>
<rect x="1672.99" y="1299.0" width="19.40" height="145.2" fill="rgb(209,234,218)"/>
<rect x="1697.34" y="1299.0" width="19.40" height="145.2" fill="rgb(205,232,214)"/>
<rect x="1721.68" y="1299.0" width="19.40" height="145.2" fill="rgb(196,228,207)"/>
<rect x="1746.03" y="1299.0" width="19.40" height="145.2" fill="rgb(188,225,201)"/>
<rect x="1770.37" y="1299.0" width="19.40" height="145.2" fill="rgb(182,222,196)"/>
<rect x="1794.71" y="1299.0" width="19.40" height="145.2" fill="rgb(171,217,187)"/>
<rect x="1819.06" y="1299.0" width="19.40" height="145.2" fill="rgb(167,215,184)"/>
<rect x="1843.40" y="1299.0" width="19.40" height="145.2" fill="rgb(175,219,190)"/>
<rect x="1867.75" y="1299.0" width="19.40" height="145.2" fill="rgb(175,219,190)"/>
<rect x="1892.09" y="1299.0" width="19.40" height="145.2" fill="rgb(192,226,204)"/>
<rect x="1916.44" y="1299.0" width="19.40" height="145.2" fill="rgb(202,231,212)"/>
<rect x="1940.78" y="1299.0" width="19.40" height="145.2" fill="rgb(213,236,221)"/>
<rect x="1965.12" y="1299.0" width="19.40" height="145.2" fill="rgb(213,236,221)"/>
<rect x="1989.47" y="1299.0" width="19.40" height="145.2" fill="rgb(243,220,218)"/>
<rect x="2013.81" y="1299.0" width="19.40" height="145.2" fill="rgb(243,220,218)"/>
<rect x="2038.16" y="1299.0" width="19.40" height="145.2" fill="rgb(243,220,218)"/>
<rect x="2062.50" y="1299.0" width="19.40" height="145.2" fill="rgb(209,234,218)"/>
<rect x="2086.85" y="1299.0" width="19.40" height="145.2" fill="rgb(202,231,212)"/>
<rect x="2111.19" y="1299.0" width="19.40" height="145.2" fill="rgb(198,229,209)"/>
<rect x="2135.54" y="1299.0" width="19.40" height="145.2" fill="rgb(196,228,207)"/>
<rect x="2159.88" y="1299.0" width="19.40" height="145.2" fill="rgb(192,226,204)"/>
<rect x="2184.22" y="1299.0" width="19.40" height="145.2" fill="rgb(182,222,196)"/>
<rect x="2208.57" y="1299.0" width="19.40" height="145.2" fill="rgb(167,215,184)"/>
<rect x="2232.91" y="1299.0" width="19.40" height="145.2" fill="rgb(160,212,178)"/>
<rect x="2257.26" y="1299.0" width="19.40" height="145.2" fill="rgb(171,217,187)"/>
<rect x="2281.60" y="1299.0" width="19.40" height="145.2" fill="rgb(182,222,196)"/>
<rect x="2305.95" y="1299.0" width="19.40" height="145.2" fill="rgb(198,229,209)"/>
<rect x="2330.29" y="1299.0" width="19.40" height="145.2" fill="rgb(241,216,214)"/>
<rect x="2354.64" y="1299.0" width="19.40" height="145.2" fill="rgb(236,201,199)"/>
<rect x="2378.98" y="1299.0" width="19.40" height="145.2" fill="rgb(234,196,193)"/>
<rect x="2403.32" y="1299.0" width="19.40" height="145.2" fill="rgb(229,181,178)"/>
<rect x="2427.67" y="1299.0" width="19.40" height="145.2" fill="rgb(226,172,168)"/>
<rect x="2452.01" y="1299.0" width="19.40" height="145.2" fill="rgb(222,162,158)"/>
<rect x="2476.36" y="1299.0" width="19.40" height="145.2" fill="rgb(221,159,155)"/>
<rect x="2500.70" y="1299.0" width="19.40" height="145.2" fill="rgb(222,162,158)"/>
<rect x="2525.05" y="1299.0" width="19.40" height="145.2" fill="rgb(222,162,158)"/>
<rect x="2549.39" y="1299.0" width="19.40" height="145.2" fill="rgb(221,159,155)"/>
<rect x="2573.73" y="1299.0" width="19.40" height="145.2" fill="rgb(224,166,162)"/>
<rect x="2598.08" y="1299.0" width="19.40" height="145.2" fill="rgb(228,177,174)"/>
<rect x="2622.42" y="1299.0" width="19.40" height="145.2" fill="rgb(232,190,187)"/>
<rect x="2646.77" y="1299.0" width="19.40" height="145.2" fill="rgb(235,198,195)"/>
<rect x="2671.11" y="1299.0" width="19.40" height="145.2" fill="rgb(241,214,213)"/>
<rect x="2695.46" y="1299.0" width="19.40" height="145.2" fill="rgb(209,234,218)"/>
<rect x="2719.80" y="1299.0" width="19.40" height="145.2" fill="rgb(192,226,204)"/>
<rect x="2744.15" y="1299.0" width="19.40" height="145.2" fill="rgb(182,222,196)"/>
<rect x="2768.49" y="1299.0" width="19.40" height="145.2" fill="rgb(171,217,187)"/>
<rect x="2792.83" y="1299.0" width="19.40" height="145.2" fill="rgb(171,217,187)"/>
<rect x="2817.18" y="1299.0" width="19.40" height="145.2" fill="rgb(171,217,187)"/>
<rect x="2841.52" y="1299.0" width="19.40" height="145.2" fill="rgb(171,217,187)"/>
<rect x="2865.87" y="1299.0" width="19.40" height="145.2" fill="rgb(167,215,184)"/>
<rect x="2890.21" y="1299.0" width="19.40" height="145.2" fill="rgb(167,215,184)"/>
<rect x="2914.56" y="1299.0" width="19.40" height="145.2" fill="rgb(167,215,184)"/>
<rect x="2938.90" y="1299.0" width="19.40" height="145.2" fill="rgb(167,215,184)"/>
<rect x="2963.25" y="1299.0" width="19.40" height="145.2" fill="rgb(163,213,180)"/>
<rect x="2987.59" y="1299.0" width="19.40" height="145.2" fill="rgb(158,211,177)"/>
<rect x="3011.93" y="1299.0" width="19.40" height="145.2" fill="rgb(156,210,175)"/>
<rect x="3036.28" y="1299.0" width="19.40" height="145.2" fill="rgb(160,212,178)"/>
<rect x="3060.62" y="1299.0" width="19.40" height="145.2" fill="rgb(165,214,182)"/>
<rect x="3084.97" y="1299.0" width="19.40" height="145.2" fill="rgb(165,214,182)"/>
<rect x="3109.31" y="1299.0" width="19.40" height="145.2" fill="rgb(165,214,182)"/>
<rect x="3133.66" y="1299.0" width="19.40" height="145.2" fill="rgb(171,217,187)"/>
<rect x="3158.00" y="1299.0" width="19.40" height="145.2" fill="rgb(179,221,194)"/>
<rect x="3182.35" y="1299.0" width="19.40" height="145.2" fill="rgb(179,221,194)"/>
<rect x="3206.69" y="1299.0" width="19.40" height="145.2" fill="rgb(186,224,199)"/>
<rect x="3231.03" y="1299.0" width="19.40" height="145.2" fill="rgb(198,229,209)"/>
<rect x="3255.38" y="1299.0" width="19.40" height="145.2" fill="rgb(205,232,214)"/>
<rect x="3279.72" y="1299.0" width="19.40" height="145.2" fill="rgb(213,236,221)"/>
<rect x="3304.07" y="1299.0" width="19.40" height="145.2" fill="rgb(241,216,214)"/>
<rect x="3328.41" y="1299.0" width="19.40" height="145.2" fill="rgb(239,211,209)"/>
<rect x="3352.76" y="1299.0" width="19.40" height="145.2" fill="rgb(239,211,209)"/>
<rect x="3377.10" y="1299.0" width="19.40" height="145.2" fill="rgb(241,214,213)"/>
<rect x="3401.44" y="1299.0" width="19.40" height="145.2" fill="rgb(240,212,211)"/>
<rect x="3425.79" y="1299.0" width="19.40" height="145.2" fill="rgb(239,211,209)"/>
<rect x="3450.13" y="1299.0" width="19.40" height="145.2" fill="rgb(243,220,218)"/>
<rect x="3474.48" y="1299.0" width="19.40" height="145.2" fill="rgb(209,234,218)"/>
<rect x="3498.82" y="1299.0" width="19.40" height="145.2" fill="rgb(198,229,209)"/>
<rect x="3523.17" y="1299.0" width="19.40" height="145.2" fill="rgb(188,225,201)"/>
<rect x="3547.51" y="1299.0" width="19.40" height="145.2" fill="rgb(184,223,197)"/>
<rect x="3571.86" y="1299.0" width="19.40" height="145.2" fill="rgb(175,219,190)"/>
<rect x="3596.20" y="1299.0" width="19.40" height="145.2" fill="rgb(167,215,184)"/>
</g>
<g stroke="#eff1f5" stroke-width="2">
<line x1="653.0" x2="653.0" y1="1494.7" y2="1586.5"/>
<line x1="1293.0" x2="1293.0" y1="1494.7" y2="1586.5"/>
<line x1="1925.9" x2="1925.9" y1="1494.7" y2="1586.5"/>
<line x1="2565.9" x2="2565.9" y1="1494.7" y2="1586.5"/>
<line x1="3195.5" x2="3195.5" y1="1494.7" y2="1586.5"/>
<line x1="653.0" x2="653.0" y1="1638.2" y2="1729.3"/>
<line x1="1293.0" x2="1293.0" y1="1638.2" y2="1729.3"/>
<line x1="1925.9" x2="1925.9" y1="1638.2" y2="1729.3"/>
<line x1="2565.9" x2="2565.9" y1="1638.2" y2="1729.3"/>
<line x1="3195.5" x2="3195.5" y1="1638.2" y2="1729.3"/>
<line x1="653.0" x2="653.0" y1="1779.8" y2="1881.0"/>
<line x1="1293.0" x2="1293.0" y1="1779.8" y2="1881.0"/>
<line x1="1925.9" x2="1925.9" y1="1779.8" y2="1881.0"/>
<line x1="2565.9" x2="2565.9" y1="1779.8" y2="1881.0"/>
<line x1="3195.5" x2="3195.5" y1="1779.8" y2="1881.0"/>
</g>
<line x1="124.65" x2="3605.9" y1="1540.6" y2="1540.6" stroke="#d0d3d7" stroke-width="2"/>
<line x1="124.65" x2="3605.9" y1="1830.1" y2="1830.1" stroke="#d0d3d7" stroke-width="2"/>
<line x1="114.0" x2="3616.4" y1="1881" y2="1881" stroke="#d2d2d2" stroke-width="2"/>
<g stroke="#a0a0a0" stroke-width="2">
<line x1="653.0" x2="653.0" y1="1881" y2="1889.5"/>
<line x1="1293.0" x2="1293.0" y1="1881" y2="1889.5"/>
<line x1="1925.9" x2="1925.9" y1="1881" y2="1889.5"/>
<line x1="2565.9" x2="2565.9" y1="1881" y2="1889.5"/>
<line x1="3195.5" x2="3195.5" y1="1881" y2="1889.5"/>
</g>
<g font-size="22" fill="#333333" text-anchor="middle">
<text x="652.5" y="1916.2">Jul 2023</text>
<text x="1292.5" y="1916.2">Jan 2024</text>
<text x="1925.4" y="1916.2">Jul 2024</text>
<text x="2565.4" y="1916.2">Jan 2025</text>
<text x="3195.0" y="1916.2">Jul 2025</text>
</g>
<path fill="#16a34a" d="M843.0,1518.2H867.0L855.0,1502.6ZM1232.5,1518.2H1256.5L1244.5,1502.6ZM2060.2,1518.2H2084.2L2072.2,1502.6ZM2693.1,1518.2H2717.2L2705.2,1502.6ZM3472.2,1518.2H3496.2L3484.2,1502.6Z"/>
<path fill="#dc2626" d="M964.7,1563.8H988.7L976.7,1579.4ZM1987.2,1563.8H2011.2L1999.2,1579.4ZM2328.0,1563.8H2352.0L2340.0,1579.4ZM3301.8,1563.8H3325.8L3313.8,1579.4Z"/>
<g clip-path="url(#c4)">
<path fill="#2ca24c" d="M1011.0,1689.5H1039.8L1025.4,1670.8ZM1035.3,1689.5H1064.2L1049.7,1670.8ZM1059.6,1689.5H1088.5L1074.1,1670.8ZM1084.0,1689.5H1112.9L1098.4,1670.8ZM1132.7,1689.5H1161.5L1147.1,1670.8ZM1157.0,1689.5H1185.9L1171.5,1670.8ZM2544.7,1689.5H2573.5L2559.1,1670.8Z"/>
<path fill="#e63946" d="M3542.8,1677.0H3571.6L3557.2,1695.8ZM3567.1,1677.0H3596.0L3581.6,1695.8ZM3591.5,1677.0H3620.3L3605.9,1695.8Z"/>
</g>
<text x="3791.5" y="1828.3" font-size="24" fill="#939393" text-anchor="end">source: sharemaestro.com</text>
<g font-size="24" fill="#333333">
<line x1="816" x2="876" y1="2125.2" y2="2125.2" stroke="#6c6f73" stroke-width="3.8" stroke-dasharray="6 6"/>
<text x="886" y="2133.8">Magic Line</text>
<line x1="1034" x2="1094" y1="2125.2" y2="2125.2" stroke="#111" stroke-width="4"/>
<text x="1104" y="2133.8">Weekly Close</text>
<line x1="1284" x2="1344" y1="2125.2" y2="2125.2" stroke="#c0b6ec" stroke-width="3"/>
<text x="1354" y="2133.8">Composite</text>
<line x1="1502" x2="1562" y1="2125.2" y2="2125.2" stroke="#2c6e9b" stroke-width="2.6" stroke-dasharray="18 18"/>
<text x="1572" y="2133.8">Baseline (0)</text>
<line x1="1735.4" x2="1795.4" y1="2125.2" y2="2125.2" stroke="#888" stroke-width="2" stroke-dasharray="6 6"/>
<text x="1805.4" y="2133.8">Top Line</text>
<line x1="1925.5" x2="1985.5" y1="2125.2" y2="2125.2" stroke="#888" stroke-width="2" stroke-dasharray="6 6"/>
<text x="1995.5" y="2133.8">Bottom Line</text>
<path fill="#16a34a" d="M2179.2,2130.4H2203.2L2191.2,2114.8Z"/>
<text x="2231.2" y="2133.8">Ribbon Flip Up</text>
<path fill="#dc2626" d="M2443.2,2120.0H2467.2L2455.2,2135.6Z"/>
<text x="2495.2" y="2133.8">Ribbon Flip Down</text>
<path fill="#e63946" d="M2740.0,2118.9H2768.8L2754.4,2137.7Z"/>
<text x="2794.4" y="2133.8">Sell Signal</text>
<path fill="#2ca24c" d="M2955.1,2131.4H2983.9L2969.5,2112.7Z"/>
<text x="3009.5" y="2133.8">Buy Signal</text>
</g>
</svg>
</body></html>
